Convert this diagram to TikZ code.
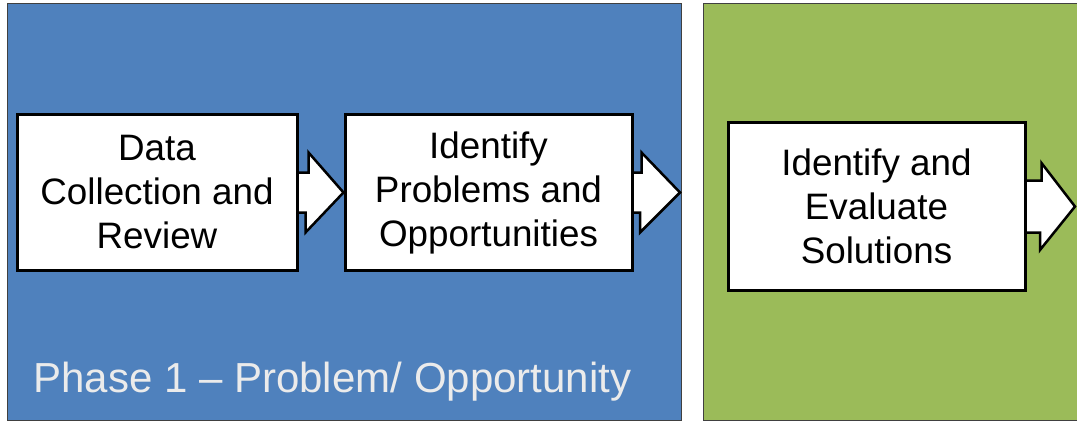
\documentclass[tikz,border=0pt]{standalone}
\usepackage{fontspec}
\setmainfont{Liberation Sans}
\usetikzlibrary{backgrounds}
\definecolor{phaseblue}{HTML}{4F81BD}
\definecolor{phasegreen}{HTML}{9BBB59}
\tikzset{
  stepbox/.style={draw=black, fill=white, line width=3pt, align=center,
    inner sep=0pt, font=\fontsize{36.8}{44}\selectfont},
  blockarrow/.style={draw=black, fill=white, line width=2.5pt, line join=miter},
  panel/.style={draw=black!75, line width=1pt}
}
\begin{document}
\begin{tikzpicture}[x=1pt, y=1pt]
  \useasboundingbox (0,0) rectangle (1077,424);
  % steps
  \node[stepbox, minimum width=280pt, minimum height=155pt] (collect) at (157,231.5) {Data\\Collection and\\Review};
  \node[stepbox, minimum width=287pt, minimum height=155pt] (problems) at (488.5,231.5) {Identify\\Problems and\\Opportunities};
  \node[stepbox, minimum width=297pt, minimum height=167pt] (solutions) at (876.5,217.5) {Identify and\\Evaluate\\Solutions};
  \coordinate (exit) at (680,231.5);
  \coordinate (next) at (1075,217.5);
  % phase panels
  \begin{scope}[on background layer]
  \draw[panel, fill=phaseblue] (7,4) rectangle (681,420);
  \draw[panel, fill=phasegreen] (703,4) rectangle (1095,420);
  \end{scope}
  \node[anchor=base west, text=white!92!black, font=\fontsize{42}{50}\selectfont] (phase) at (30,32) {Phase 1 -- Problem/ Opportunity};
  % block arrows between steps
  \begin{scope}[on background layer]
  \draw[blockarrow] ([shift={(-3pt,20pt)}]collect.east) -- ++(13,0) -- ++(0,20) -- (problems.west) -- ++(-38,-40) -- ++(0,20) -- ([shift={(-3pt,-20pt)}]collect.east);
  \draw[blockarrow] ([shift={(-3pt,20pt)}]problems.east) -- ++(11,0) -- ++(0,20) -- (exit) -- ++(-40,-40) -- ++(0,20) -- ([shift={(-3pt,-20pt)}]problems.east);
  \draw[blockarrow] ([shift={(-3pt,26pt)}]solutions.east) -- ++(18,0) -- ++(0,17.5) -- (next) -- ++(-35,-43.5) -- ++(0,17.5) -- ([shift={(-3pt,-26pt)}]solutions.east);
  \end{scope}
\end{tikzpicture}
\end{document}
